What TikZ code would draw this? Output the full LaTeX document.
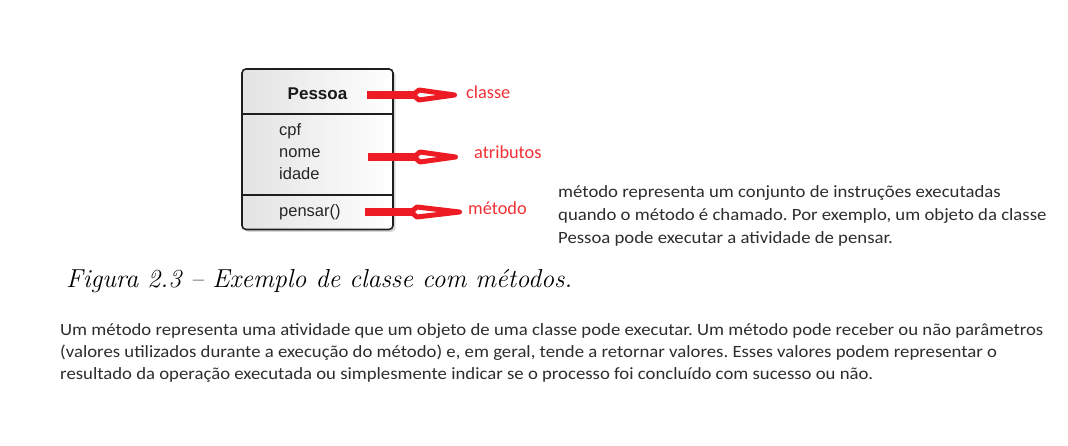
\documentclass[tikz,border=0pt]{standalone}
\usepackage{fontspec}
\newfontfamily\calib[FakeStretch=1.09]{Carlito}
\newfontfamily\calibl{Carlito}
\newfontfamily\arialf{Liberation Sans}
\usetikzlibrary{shadows}
\definecolor{arrowred}{RGB}{237,28,36}
\definecolor{labelred}{RGB}{242,48,52}
\definecolor{bodygray}{RGB}{45,45,45}
\definecolor{boxline}{RGB}{30,30,30}
\tikzset{
  attrtext/.style={font=\arialf\fontsize{16.5}{20}\selectfont, text=black!85, inner sep=0pt, anchor=base west},
  redlabel/.style={font=\calibl\fontsize{18.3}{22}\selectfont, text=labelred, inner sep=0pt, anchor=base west},
  bodytext/.style={font=\calib\fontsize{17.2}{20}\selectfont\frenchspacing, text=bodygray, inner sep=0pt, anchor=base west},
  pics/redarrow/.style={code={
    \fill[arrowred] (0,-4) rectangle (48,4);
    \draw[arrowred, line width=5, line join=round, fill=white] (46,0) -- (52,-5) -- (#1-2.5,0) -- (52,5) -- cycle;
  }}
}
\begin{document}
\begin{tikzpicture}[x=1pt,y=-1pt]
\useasboundingbox (0,0) rectangle (1068,446);
\fill[white] (0,0) rectangle (1068,446);

% class box
\node (cls) [draw=boxline, line width=1.6, rounded corners=4, minimum width=151, minimum height=160.5,
  left color=gray!22, right color=white,
  drop shadow={shadow xshift=2.5pt, shadow yshift=-2.5pt, opacity=0.3}] at (317.5,149.25) {};
\draw[boxline, line width=1.4] (cls.west |- 0,114) -- (cls.east |- 0,114);
\draw[boxline, line width=1.4] (cls.west |- 0,195) -- (cls.east |- 0,195);

\node[font=\arialf\bfseries\fontsize{17}{20}\selectfont, inner sep=0pt, anchor=base, text=black!90] (name) at (317.5,99.5) {Pessoa};
\node[attrtext] (cpf) at (279,136) {cpf};
\node[attrtext] (nome) at (279,158) {nome};
\node[attrtext] (idade) at (279,180) {idade};
\node[attrtext] (pensar) at (279,216.5) {pensar()};

% labels and arrows
\node[redlabel] (lclasse) at (466,98.5) {classe};
\node[redlabel] (latrib) at (474,159) {atributos};
\node[redlabel] (lmetodo) at (468,215) {método};
\coordinate (s1) at (367,95);
\coordinate (s2) at (368,157);
\coordinate (s3) at (365,212);
\pic at (s1) {redarrow=90};
\pic at (s2) {redarrow=90};
\pic at (s3) {redarrow=97};

% right paragraph
\node[bodytext] (r1) at (558,198) {método representa um conjunto de instruções executadas};
\node[bodytext] (r2) at (558,221) {quando o método é chamado. Por exemplo, um objeto da classe};
\node[bodytext] (r3) at (558,244) {Pessoa pode executar a atividade de pensar.};

% caption
\node[font=\itshape\fontsize{26}{30}\selectfont, inner sep=0pt, anchor=base west] (cap) at (66,288) {Figura 2.3 -- Exemplo de classe com métodos.};

% bottom paragraph
\node[bodytext] (b1) at (60,335) {Um método representa uma atividade que um objeto de uma classe pode executar. Um método pode receber ou não parâmetros};
\node[bodytext] (b2) at (60,357) {(valores utilizados durante a execução do método) e, em geral, tende a retornar valores. Esses valores podem representar o};
\node[bodytext] (b3) at (60,379) {resultado da operação executada ou simplesmente indicar se o processo foi concluído com sucesso ou não.};
\end{tikzpicture}
\end{document}
